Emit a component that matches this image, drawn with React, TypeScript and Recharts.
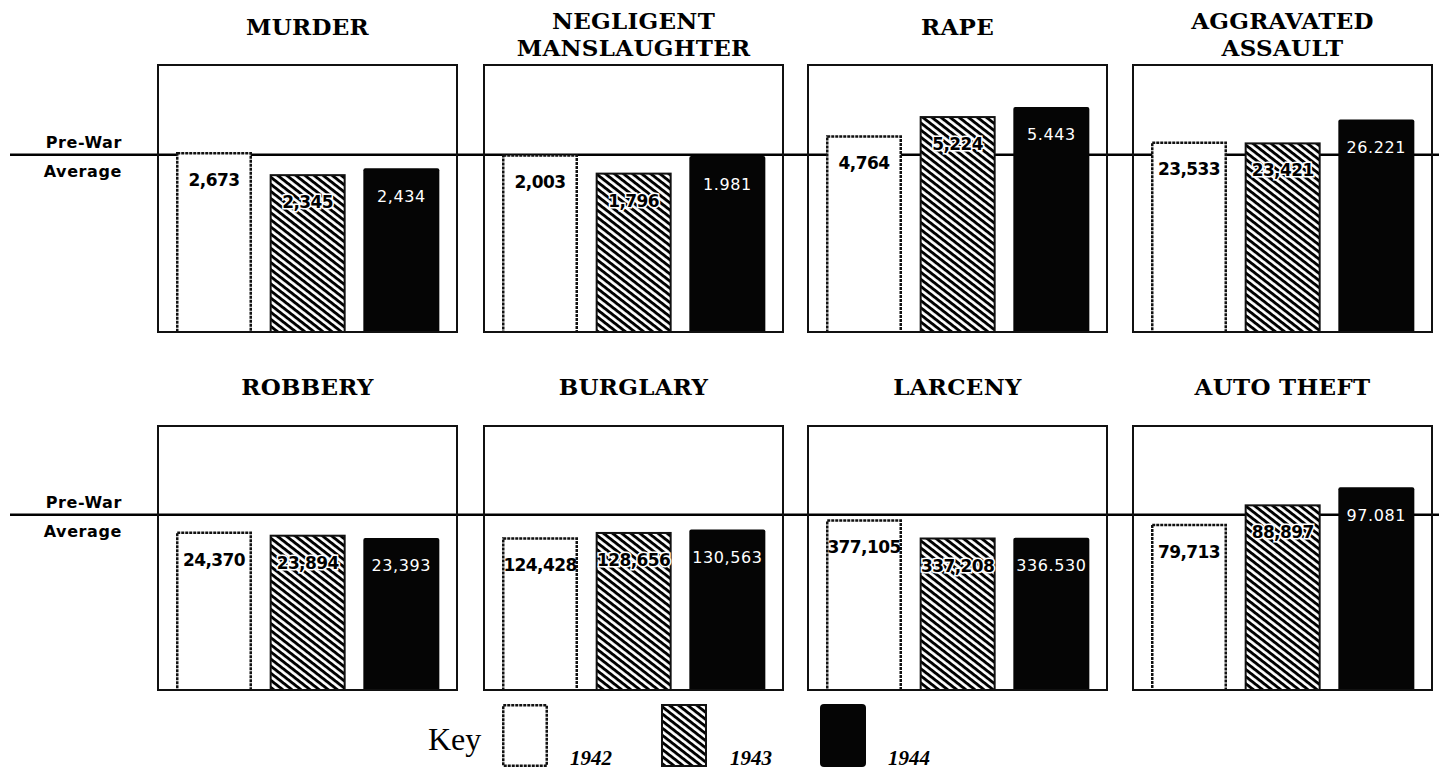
import { BarChart, Bar, XAxis, YAxis, ReferenceLine, LabelList } from "recharts"

const crimes = [
  ["MURDER"],
  ["NEGLIGENT", "MANSLAUGHTER"],
  ["RAPE"],
  ["AGGRAVATED", "ASSAULT"],
  ["ROBBERY"],
  ["BURGLARY"],
  ["LARCENY"],
  ["AUTO THEFT"],
]

const years = ["1942", "1943", "1944"]

const values1942 = [2673, 2003, 4764, 23533, 24370, 124428, 377105, 79713]
const values1943 = [2345, 1796, 5224, 23421, 23894, 128656, 337208, 88897]
const values1944 = [2434, 1981, 5443, 26221, 23393, 130563, 336530, 97081]

const labels1942 = ["2,673", "2,003", "4,764", "23,533", "24,370", "124,428", "377,105", "79,713"]
const labels1943 = ["2,345", "1,796", "5,224", "23,421", "23,894", "128,656", "337,208", "88,897"]
const labels1944 = ["2,434", "1.981", "5.443", "26.221", "23,393", "130,563", "336.530", "97.081"]

const prewarAverage = [2630, 1995, 4290, 21890, 26930, 142500, 387000, 83900]

const series = [values1942, values1943, values1944]
const labels = [labels1942, labels1943, labels1944]

const BOX_W = 301
const BOX_LEFTS = [157, 483, 807, 1132]
const ROWS = [
  { top: 64, height: 269 },
  { top: 425, height: 266 },
]
const LINE_START = 10
const LINE_END = 1439
const HEADROOM = 1.51

function Hatch({ id }: { id: string }) {
  return (
    <pattern id={id} patternUnits="userSpaceOnUse" width={10} height={5.6} patternTransform="rotate(38)">
      <rect width={10} height={5.6} fill="#fff" />
      <rect width={10} height={2.9} fill="#000" />
    </pattern>
  )
}

function BarShape(p: any) {
  const { x, y, width, height, index, hatchId } = p
  if (index === 0) {
    return (
      <rect x={x + 1.25} y={y + 1.25} width={width - 2.5} height={height - 1.25} fill="#fff"
        stroke="#111" strokeWidth={2.5} strokeDasharray="3 1" />
    )
  }
  if (index === 1) {
    return (
      <rect x={x + 1} y={y + 1} width={width - 2} height={height - 1}
        fill={`url(#${hatchId})`} stroke="#111" strokeWidth={2} />
    )
  }
  return <rect x={x} y={y} width={width} height={height} rx={2} fill="#050505" />
}

function BarLabel(p: any) {
  const { x, y, width, value, index } = p
  const cx = x + width / 2
  const cy = y + 28
  if (index === 2) {
    return (
      <text x={cx} y={cy} textAnchor="middle" dominantBaseline="central" fill="#fff"
        fontFamily="DejaVu Sans" fontSize={16} letterSpacing={0.6}>
        {value}
      </text>
    )
  }
  return (
    <text x={cx} y={cy} textAnchor="middle" dominantBaseline="central" fill="#000"
      stroke={index === 1 ? "#fff" : "none"} strokeWidth={3} paintOrder="stroke"
      fontFamily="DejaVu Sans" fontWeight="bold" fontSize={17} letterSpacing={-0.6}>
      {value}
    </text>
  )
}

function Panel({ index }: { index: number }) {
  const row = Math.floor(index / 4)
  const col = index % 4
  const { top, height } = ROWS[row]
  const boxLeft = BOX_LEFTS[col]
  const chartLeft = col === 0 ? LINE_START : BOX_LEFTS[col - 1] + BOX_W
  const chartRight = col === 3 ? LINE_END : boxLeft + BOX_W
  const width = chartRight - chartLeft
  const extLeft = boxLeft - chartLeft
  const extRight = chartRight - boxLeft - BOX_W
  const avg = prewarAverage[index]
  const hatchId = `hatch-${index}`
  const data = years.map((year, k) => ({ year, value: series[k][index], label: labels[k][index] }))
  const margin = { top: 0, right: extRight, bottom: 0, left: extLeft }
  const layer = { position: "absolute" as const, left: 0, top: 0 }

  return (
    <div style={{ position: "absolute", left: chartLeft, top, width, height }}>
      {/* back layer: the pre-war average line, so the bars cover it */}
      <div style={layer}>
        <BarChart width={width} height={height} data={data} barSize={76} margin={margin}>
          <XAxis dataKey="year" hide padding={{ left: 10, right: 10 }} />
          <YAxis hide domain={[0, avg * HEADROOM]} allowDataOverflow />
          <ReferenceLine y={avg}
            shape={(p: any) => (
              <line x1={0} x2={width} y1={p.y1} y2={p.y1} stroke="#000" strokeWidth={2.5} />
            )} />
        </BarChart>
      </div>
      <div style={layer}>
        <BarChart width={width} height={height} data={data} barSize={76} margin={margin}>
          <defs>
            <Hatch id={hatchId} />
          </defs>
          <XAxis dataKey="year" hide padding={{ left: 10, right: 10 }} />
          <YAxis hide domain={[0, avg * HEADROOM]} allowDataOverflow />
          <Bar dataKey="value" isAnimationActive={false}
            shape={(p: any) => <BarShape {...p} hatchId={hatchId} />}>
            <LabelList dataKey="label" content={(p: any) => <BarLabel {...p} />} />
          </Bar>
        </BarChart>
      </div>
      <div style={{
        position: "absolute", left: extLeft, top: 0, width: BOX_W, height,
        border: "2px solid #111", boxSizing: "border-box", pointerEvents: "none",
      }} />
    </div>
  )
}

function Title({ index }: { index: number }) {
  const row = Math.floor(index / 4)
  const col = index % 4
  const lines = crimes[index]
  const top = row === 0 ? (lines.length > 1 ? 7 : 13) : 373
  return (
    <div style={{
      position: "absolute", left: BOX_LEFTS[col] - 30, width: BOX_W + 60, top,
      textAlign: "center", fontFamily: "DejaVu Serif", fontWeight: "bold",
      fontSize: 23, lineHeight: "27px", color: "#000", letterSpacing: 0.3,
    }}>
      {lines.map((l) => <div key={l}>{l}</div>)}
    </div>
  )
}

function PrewarLabel({ lineY }: { lineY: number }) {
  const style = {
    position: "absolute" as const, right: 1439 - 122, textAlign: "right" as const,
    fontFamily: "DejaVu Sans", fontWeight: 900, fontSize: 16, lineHeight: "18px", color: "#000",
    letterSpacing: 0.6,
  }
  return (
    <>
      <div style={{ ...style, top: lineY - 21 }}>Pre-War</div>
      <div style={{ ...style, top: lineY + 8 }}>Average</div>
    </>
  )
}

function Swatch({ k }: { k: number }) {
  const w = 46
  const h = 63
  return (
    <svg width={w} height={h} style={{ display: "block" }}>
      <defs>
        <Hatch id="hatch-key" />
      </defs>
      {k === 0 && (
        <rect x={1.25} y={1.25} width={w - 2.5} height={h - 2.5} fill="#fff" stroke="#111" strokeWidth={2.5} strokeDasharray="3 1" />
      )}
      {k === 1 && <rect x={1} y={1} width={w - 2} height={h - 2} fill="url(#hatch-key)" stroke="#111" strokeWidth={2} />}
      {k === 2 && <rect x={0} y={0} width={w} height={h} rx={4} fill="#050505" />}
    </svg>
  )
}

const keyLefts = [502, 661, 820]
const keyLabelLefts = [570, 730, 888]

export default function App() {
  return (
    <div style={{ position: "absolute", left: 0, top: 0, width: 1439, height: 769, background: "#fff", overflow: "hidden" }}>
      {crimes.map((_, i) => <Title key={`t${i}`} index={i} />)}
      {crimes.map((_, i) => <Panel key={`p${i}`} index={i} />)}
      <PrewarLabel lineY={155} />
      <PrewarLabel lineY={515} />
      <div style={{ position: "absolute", left: 428, top: 719, fontFamily: "Liberation Serif", fontSize: 32, lineHeight: "40px" }}>
        Key
      </div>
      {years.map((y, k) => (
        <div key={y}>
          <div style={{ position: "absolute", left: keyLefts[k], top: 704 }}>
            <Swatch k={k} />
          </div>
          <div style={{
            position: "absolute", left: keyLabelLefts[k], top: 745, fontFamily: "Liberation Serif",
            fontWeight: "bold", fontStyle: "italic", fontSize: 21, lineHeight: "26px",
          }}>
            {y}
          </div>
        </div>
      ))}
    </div>
  )
}
